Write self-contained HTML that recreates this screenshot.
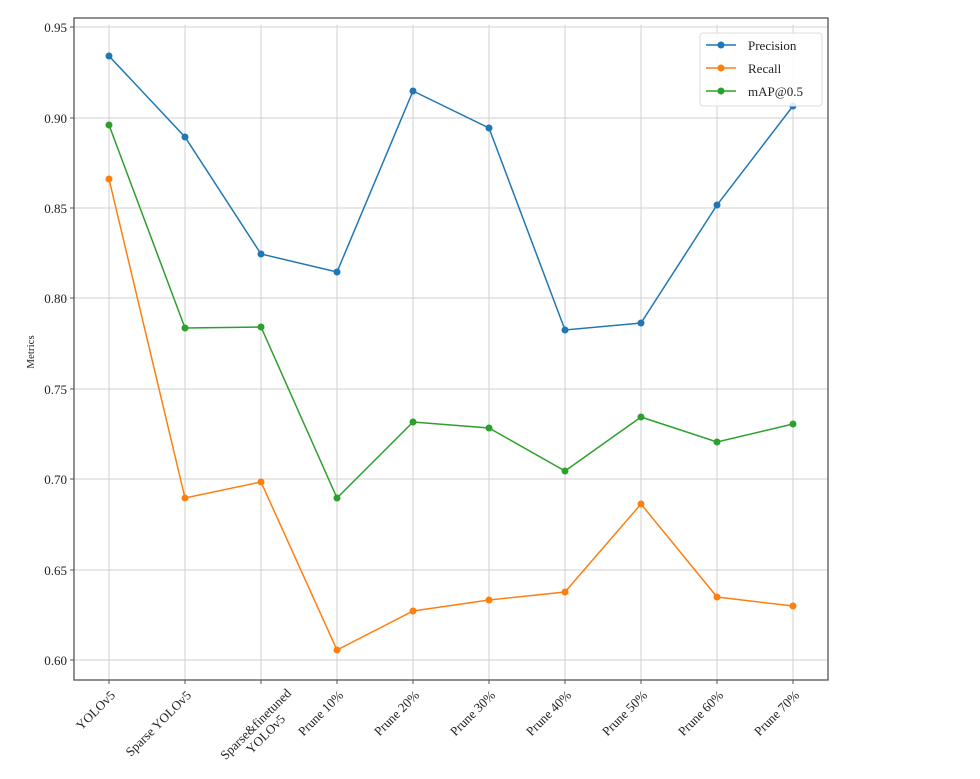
<!DOCTYPE html>
<html><head><meta charset="utf-8"><style>body{margin:0;background:#fff}</style></head><body>
<svg width="980" height="774" xmlns="http://www.w3.org/2000/svg" font-family="Liberation Serif, serif" font-size="13" fill="#222">
<rect width="980" height="774" fill="#fff"/>
<g stroke="#d0d0d0" stroke-width="1">
<line x1="74" x2="828" y1="27" y2="27"/><line x1="74" x2="828" y1="118" y2="118"/><line x1="74" x2="828" y1="208" y2="208"/><line x1="74" x2="828" y1="298" y2="298"/><line x1="74" x2="828" y1="389" y2="389"/><line x1="74" x2="828" y1="479" y2="479"/><line x1="74" x2="828" y1="570" y2="570"/><line x1="74" x2="828" y1="660" y2="660"/>
<line x1="109" x2="109" y1="25" y2="680"/><line x1="185" x2="185" y1="25" y2="680"/><line x1="261" x2="261" y1="25" y2="680"/><line x1="337" x2="337" y1="25" y2="680"/><line x1="413" x2="413" y1="25" y2="680"/><line x1="489" x2="489" y1="25" y2="680"/><line x1="565" x2="565" y1="25" y2="680"/><line x1="641" x2="641" y1="25" y2="680"/><line x1="717" x2="717" y1="25" y2="680"/><line x1="793" x2="793" y1="25" y2="680"/>
</g>
<rect x="74" y="18" width="754" height="662" fill="none" stroke="#555" stroke-width="1.3"/>
<g stroke="#555"><line x1="70" x2="74" y1="27" y2="27"/><line x1="70" x2="74" y1="118" y2="118"/><line x1="70" x2="74" y1="208" y2="208"/><line x1="70" x2="74" y1="298" y2="298"/><line x1="70" x2="74" y1="389" y2="389"/><line x1="70" x2="74" y1="479" y2="479"/><line x1="70" x2="74" y1="570" y2="570"/><line x1="70" x2="74" y1="660" y2="660"/>
<line x1="109" x2="109" y1="680" y2="684"/><line x1="185" x2="185" y1="680" y2="684"/><line x1="261" x2="261" y1="680" y2="684"/><line x1="337" x2="337" y1="680" y2="684"/><line x1="413" x2="413" y1="680" y2="684"/><line x1="489" x2="489" y1="680" y2="684"/><line x1="565" x2="565" y1="680" y2="684"/><line x1="641" x2="641" y1="680" y2="684"/><line x1="717" x2="717" y1="680" y2="684"/><line x1="793" x2="793" y1="680" y2="684"/></g>
<g text-anchor="end"><text x="67" y="32">0.95</text><text x="67" y="123">0.90</text><text x="67" y="213">0.85</text><text x="67" y="303">0.80</text><text x="67" y="394">0.75</text><text x="67" y="484">0.70</text><text x="67" y="575">0.65</text><text x="67" y="665">0.60</text></g>
<text transform="translate(34,352) rotate(-90)" text-anchor="middle" font-size="11">Metrics</text>
<g text-anchor="end">
<text transform="translate(116,696) rotate(-45)">YOLOv5</text>
<text transform="translate(192,696) rotate(-45)">Sparse YOLOv5</text>
<g transform="translate(292,694) rotate(-45)"><text x="0" y="0">Sparse&amp;finetuned</text><text x="-47" y="14" text-anchor="middle">YOLOv5</text></g>
<text transform="translate(344,696) rotate(-45)">Prune 10%</text>
<text transform="translate(420,696) rotate(-45)">Prune 20%</text>
<text transform="translate(496,696) rotate(-45)">Prune 30%</text>
<text transform="translate(572,696) rotate(-45)">Prune 40%</text>
<text transform="translate(648,696) rotate(-45)">Prune 50%</text>
<text transform="translate(724,696) rotate(-45)">Prune 60%</text>
<text transform="translate(800,696) rotate(-45)">Prune 70%</text>
</g>
<g fill="none" stroke-width="1.5">
<polyline stroke="#1f77b4" points="109,56 185,137 261,254 337,272 413,91 489,128 565,330 641,323 717,205 793,106"/>
<polyline stroke="#ff7f0e" points="109,179 185,498 261,482 337,650 413,611 489,600 565,592 641,504 717,597 793,606"/>
<polyline stroke="#2ca02c" points="109,125 185,328 261,327 337,498 413,422 489,428 565,471 641,417 717,442 793,424"/>
</g>
<g fill="#1f77b4"><circle cx="109" cy="56" r="3.5"/><circle cx="185" cy="137" r="3.5"/><circle cx="261" cy="254" r="3.5"/><circle cx="337" cy="272" r="3.5"/><circle cx="413" cy="91" r="3.5"/><circle cx="489" cy="128" r="3.5"/><circle cx="565" cy="330" r="3.5"/><circle cx="641" cy="323" r="3.5"/><circle cx="717" cy="205" r="3.5"/><circle cx="793" cy="106" r="3.5"/></g>
<g fill="#ff7f0e"><circle cx="109" cy="179" r="3.5"/><circle cx="185" cy="498" r="3.5"/><circle cx="261" cy="482" r="3.5"/><circle cx="337" cy="650" r="3.5"/><circle cx="413" cy="611" r="3.5"/><circle cx="489" cy="600" r="3.5"/><circle cx="565" cy="592" r="3.5"/><circle cx="641" cy="504" r="3.5"/><circle cx="717" cy="597" r="3.5"/><circle cx="793" cy="606" r="3.5"/></g>
<g fill="#2ca02c"><circle cx="109" cy="125" r="3.5"/><circle cx="185" cy="328" r="3.5"/><circle cx="261" cy="327" r="3.5"/><circle cx="337" cy="498" r="3.5"/><circle cx="413" cy="422" r="3.5"/><circle cx="489" cy="428" r="3.5"/><circle cx="565" cy="471" r="3.5"/><circle cx="641" cy="417" r="3.5"/><circle cx="717" cy="442" r="3.5"/><circle cx="793" cy="424" r="3.5"/></g>
<rect x="700" y="33" width="122" height="73" fill="#fff" fill-opacity="0.85" stroke="#ddd" rx="3"/>
<g stroke-width="1.5"><line x1="706" x2="736" y1="45" y2="45" stroke="#1f77b4"/><line x1="706" x2="736" y1="68" y2="68" stroke="#ff7f0e"/><line x1="706" x2="736" y1="91" y2="91" stroke="#2ca02c"/></g>
<circle cx="721" cy="45" r="3.5" fill="#1f77b4"/><circle cx="721" cy="68" r="3.5" fill="#ff7f0e"/><circle cx="721" cy="91" r="3.5" fill="#2ca02c"/>
<text x="748" y="50">Precision</text><text x="748" y="73">Recall</text><text x="748" y="96">mAP@0.5</text>
</svg>
</body></html>
